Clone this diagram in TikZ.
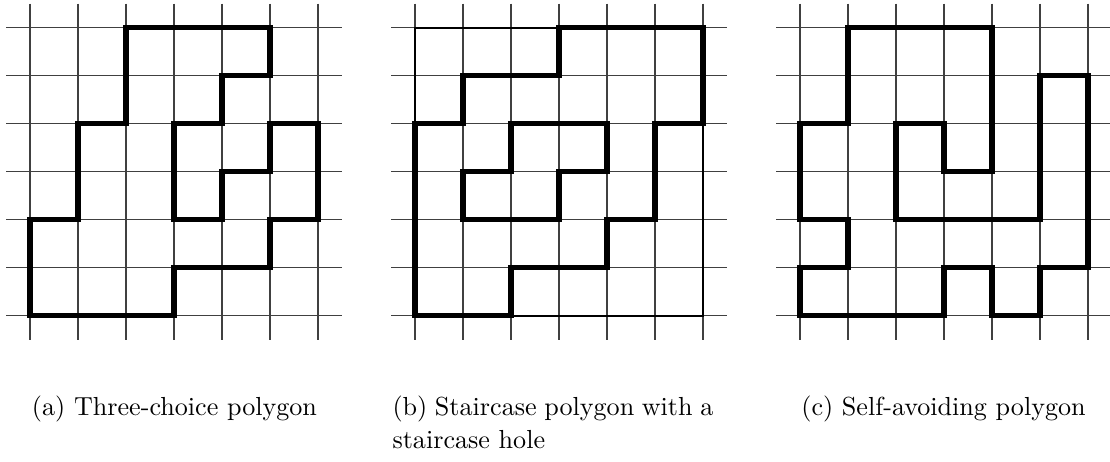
\documentclass[tikz,border=0pt]{standalone}
\begin{document}
\begin{tikzpicture}[x=0.3831pt,y=-0.3831pt,
  gridline/.style={line width=0.42pt,black!75},
  rectline/.style={line width=0.75pt,black},
  polyline/.style={line width=2.05pt,black,line join=miter},
  caption/.style={inner sep=0pt,font=\fontsize{10}{12}\selectfont}]
\useasboundingbox (0,0) rectangle (1110,462);
% ---------- (a) ----------
\begin{scope}[shift={(30,27.7)},scale=48]
  \foreach \i in {0,...,6}{
    \draw[gridline] (\i,-0.5) -- (\i,6.5);
    \draw[gridline] (-0.5,\i) -- (6.5,\i);
  }
  \draw[polyline] (2,0) -- (5,0) -- (5,1) -- (4,1) -- (4,2) -- (3,2) -- (3,4) -- (4,4) -- (4,3) -- (5,3) -- (5,2) -- (6,2) -- (6,4) -- (5,4) -- (5,5) -- (3,5) -- (3,6) -- (0,6) -- (0,4) -- (1,4) -- (1,2) -- (2,2) -- cycle;
\end{scope}
% ---------- (b) ----------
\begin{scope}[shift={(415,27.7)},scale=48]
  \foreach \i in {0,...,6}{
    \draw[gridline] (\i,-0.5) -- (\i,6.5);
    \draw[gridline] (-0.5,\i) -- (6.5,\i);
  }
  \draw[rectline] (0,0) rectangle (6,6);
  \draw[polyline] (3,0) -- (6,0) -- (6,2) -- (5,2) -- (5,4) -- (4,4) -- (4,5) -- (2,5) -- (2,6) -- (0,6) -- (0,2) -- (1,2) -- (1,1) -- (3,1) -- cycle;
  \draw[polyline] (2,2) -- (4,2) -- (4,3) -- (3,3) -- (3,4) -- (1,4) -- (1,3) -- (2,3) -- cycle;
\end{scope}
% ---------- (c) ----------
\begin{scope}[shift={(800,27.7)},scale=48]
  \foreach \i in {0,...,6}{
    \draw[gridline] (\i,-0.5) -- (\i,6.5);
    \draw[gridline] (-0.5,\i) -- (6.5,\i);
  }
  \draw[polyline] (1,0) -- (4,0) -- (4,3) -- (3,3) -- (3,2) -- (2,2) -- (2,4) -- (5,4) -- (5,1) -- (6,1) -- (6,5) -- (5,5) -- (5,6) -- (4,6) -- (4,5) -- (3,5) -- (3,6) -- (0,6) -- (0,5) -- (1,5) -- (1,4) -- (0,4) -- (0,2) -- (1,2) -- cycle;
\end{scope}
% ---------- captions ----------
\node[caption,anchor=base] (capa) at (174.5,415) {(a) Three-choice polygon};
\node[caption,anchor=base west] (capb1) at (392,415) {\makebox[122.9pt][s]{(b) Staircase polygon with a}};
\node[caption,anchor=base west] (capb2) at (392,448) {staircase hole};
\node[caption,anchor=base] (capc) at (943.5,415) {(c) Self-avoiding polygon};
\end{tikzpicture}
\end{document}
